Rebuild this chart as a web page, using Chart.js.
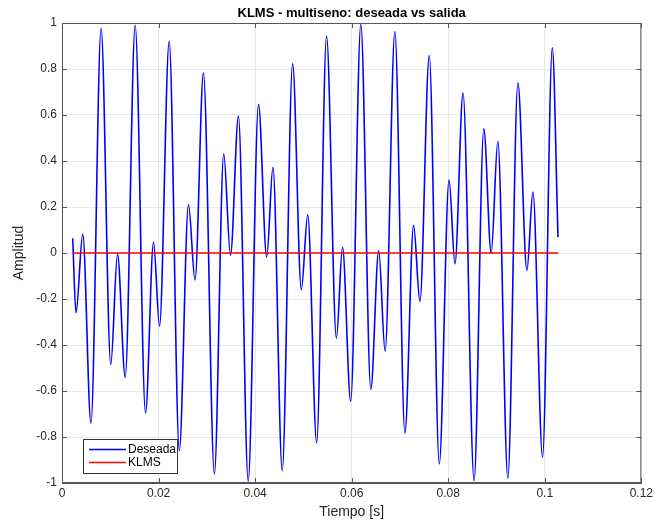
<!DOCTYPE html>
<html><head><meta charset="utf-8">
<script src="https://cdn.jsdelivr.net/npm/chart.js@4/dist/chart.umd.min.js"></script>
<style>html,body{margin:0;padding:0;background:#fff}#wrap{position:relative;width:656px;height:527px}</style>
</head><body><div id="wrap"><canvas id="c" width="656" height="527"></canvas></div>
<script>
// Data (local extrema of the desired signal)
const tiempo = [0.00222,0.0029,0.0043,0.0060,0.0081,0.0101,0.0115,0.0131,0.01516,0.0173,0.01896,0.0202,0.0222,0.0243,0.0262,0.02755,0.0293,0.03157,0.0335,0.0349,0.03655,0.03857,0.0407,0.0424,0.0437,0.04562,0.04777,0.04957,0.0509,0.05275,0.0548,0.05684,0.0581,0.0598,0.0619,0.06397,0.0656,0.06693,0.06895,0.07103,0.07283,0.07414,0.07607,0.07815,0.08017,0.0814,0.08307,0.08536,0.08737,0.0889,0.09028,0.09235,0.09443,0.0963,0.09755,0.09954,0.10156,0.10274];
const deseada = [0.064,-0.26,0.082,-0.74,0.977,-0.485,-0.005,-0.54,0.99,-0.695,0.047,-0.318,0.92,-0.86,0.21,-0.117,0.783,-0.96,0.431,-0.01,0.595,-0.993,0.646,-0.018,0.373,-0.946,0.823,-0.16,0.166,-0.825,0.943,-0.37,0.025,-0.645,0.995,-0.593,0.01,-0.427,0.963,-0.783,0.12,-0.21,0.859,-0.917,0.318,-0.047,0.695,-0.99,0.54,0.0,0.486,-0.979,0.74,-0.076,0.265,-0.888,0.892,0.069];
const klmsTiempo = [0.00222, 0.10274];
const klms = [0, 0];
const xTickValues = [0,0.02,0.04,0.06,0.08,0.1,0.12];
const xTickLabels = ['0','0.02','0.04','0.06','0.08','0.1','0.12'];
const yTickValues = [-1,-0.8,-0.6,-0.4,-0.2,0,0.2,0.4,0.6,0.8,1];
const yTickLabels = ['-1','-0.8','-0.6','-0.4','-0.2','0','0.2','0.4','0.6','0.8','1'];
const seriesNames = ['Deseada','KLMS'];
const seriesColors = ['#0000ff','#ff0000'];
const titleText = 'KLMS - multiseno: deseada vs salida';
const xLabel = 'Tiempo [s]';
const yLabel = 'Amplitud';

const FONT = "'Liberation Sans', Arial, Helvetica, sans-serif";
const AXIS = '#555555';

const deco = {
  id: 'deco',
  afterDraw(chart) {
    const {ctx, chartArea: a, scales} = chart;
    ctx.save();
    // box
    ctx.strokeStyle = AXIS; ctx.lineWidth = 1;
    ctx.strokeRect(a.left + 0.5, a.top + 0.5, a.right - a.left - 1, a.bottom - a.top - 1);
    // inward ticks
    ctx.beginPath();
    xTickValues.forEach(v => {
      const x = Math.round(scales.x.getPixelForValue(v)) + 0.5;
      ctx.moveTo(x, a.bottom); ctx.lineTo(x, a.bottom - 5);
      ctx.moveTo(x, a.top); ctx.lineTo(x, a.top + 5);
    });
    yTickValues.forEach(v => {
      const y = Math.round(scales.y.getPixelForValue(v)) + 0.5;
      ctx.moveTo(a.left, y); ctx.lineTo(a.left + 5, y);
      ctx.moveTo(a.right, y); ctx.lineTo(a.right - 5, y);
    });
    ctx.stroke();
    // title
    ctx.fillStyle = '#000';
    ctx.font = 'bold 13px ' + FONT;
    ctx.textAlign = 'center'; ctx.textBaseline = 'middle';
    ctx.fillText(titleText, (a.left + a.right) / 2, 13);
    // legend
    const bx = a.left + 21, by = a.bottom - 44, bw = 94, bh = 34;
    ctx.fillStyle = '#fff';
    ctx.fillRect(bx, by, bw, bh);
    ctx.strokeStyle = '#333'; ctx.lineWidth = 1;
    ctx.strokeRect(bx + 0.5, by + 0.5, bw, bh);
    ctx.font = '12px ' + FONT;
    ctx.textAlign = 'left';
    seriesNames.forEach((n, i) => {
      const y = by + 10.5 + i * 13;
      ctx.strokeStyle = seriesColors[i]; ctx.lineWidth = 1.5;
      ctx.beginPath(); ctx.moveTo(bx + 6, y); ctx.lineTo(bx + 43, y); ctx.stroke();
      ctx.fillStyle = '#000';
      ctx.fillText(n, bx + 45, y + 0.5);
    });
    ctx.restore();
  }
};

new Chart(document.getElementById('c'), {
  type: 'line',
  data: {
    datasets: [
      { label: seriesNames[0], data: tiempo.map((t, i) => ({x: t, y: deseada[i]})),
        borderColor: seriesColors[0], borderWidth: 1.6, pointRadius: 0, fill: false,
        cubicInterpolationMode: 'monotone', order: 1 },
      { label: seriesNames[1], data: klmsTiempo.map((t, i) => ({x: t, y: klms[i]})),
        borderColor: seriesColors[1], borderWidth: 1.6, pointRadius: 0, fill: false, order: 0 }
    ]
  },
  options: {
    responsive: false, animation: false, devicePixelRatio: 1,
    layout: { padding: { top: 23, right: 14, left: 0, bottom: 0 } },
    plugins: { legend: { display: false }, title: { display: false }, tooltip: { enabled: false } },
    scales: {
      x: {
        type: 'linear', min: 0, max: 0.12,
        afterBuildTicks: s => { s.ticks = xTickValues.map(v => ({value: v})); },
        afterFit: s => { s.height = 44; },
        ticks: { callback: (v, i) => xTickLabels[i], font: { size: 12, family: FONT }, color: '#262626', padding: 3, maxRotation: 0 },
        grid: { color: '#e8e8e8', drawTicks: false },
        border: { display: true, color: AXIS },
        title: { display: true, text: xLabel, font: { size: 14, family: FONT }, color: '#262626', padding: { top: 0, bottom: 6 } }
      },
      y: {
        type: 'linear', min: -1, max: 1,
        afterBuildTicks: s => { s.ticks = yTickValues.map(v => ({value: v})); },
        afterFit: s => { s.width = 62; },
        ticks: { callback: (v, i) => yTickLabels[i], font: { size: 12, family: FONT }, color: '#262626', padding: 5 },
        grid: { color: '#e8e8e8', drawTicks: false },
        border: { display: true, color: AXIS },
        title: { display: true, text: yLabel, font: { size: 14, family: FONT }, color: '#262626', padding: { top: 11, bottom: 0 } }
      }
    }
  },
  plugins: [deco]
});
</script></body></html>
